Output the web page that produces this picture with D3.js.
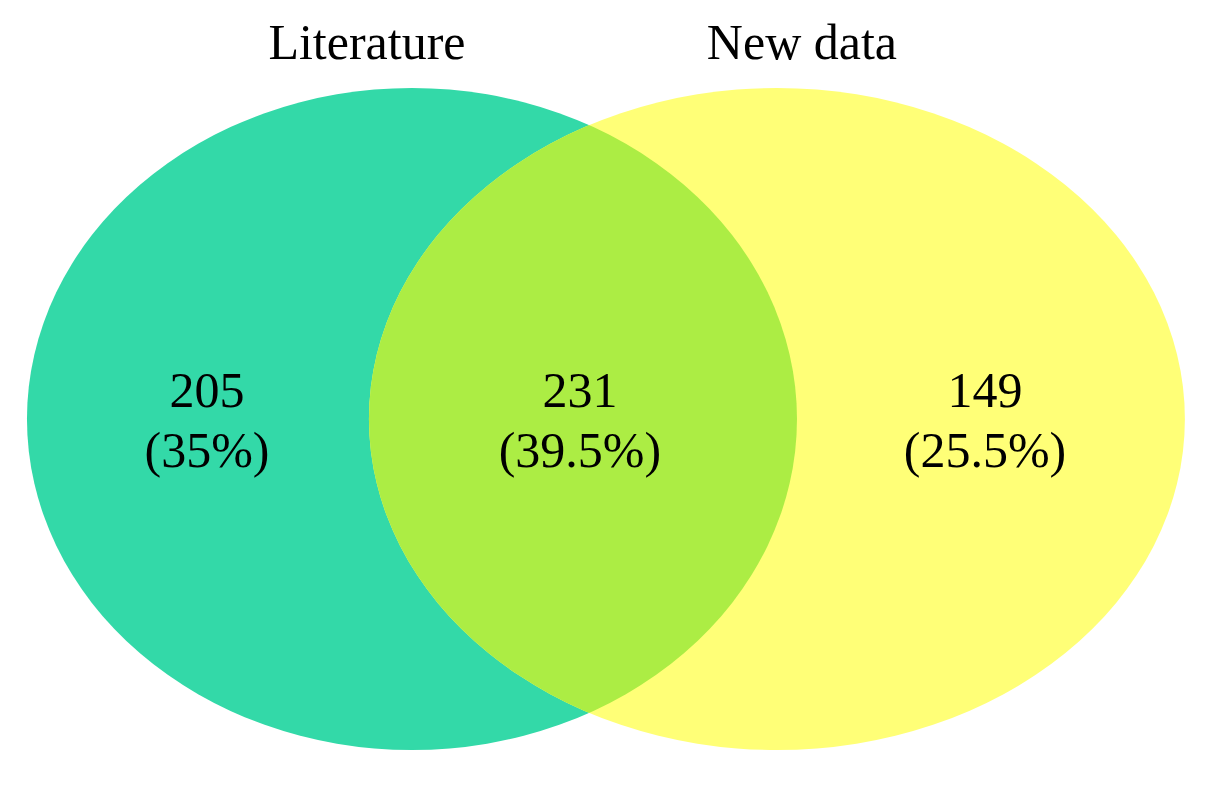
<!DOCTYPE html>
<html>
<head>
<meta charset="utf-8">
<script src="https://cdn.jsdelivr.net/npm/d3@7"></script>
<style>
  body { margin: 0; background: #fff; }
  text { font-family: "Liberation Serif", "Times New Roman", serif; fill: #000; }
</style>
</head>
<body>
<script>
// sets and region counts
var setNames = ["Literature", "New data"];
var regionCounts = [205, 231, 149];          // only Literature, both, only New data
var regionPercents = ["35%", "39.5%", "25.5%"];

var w = 1219, h = 789;

// layout in unit space, mapped to pixels by scales
var xScale = d3.scaleLinear().domain([0, 1]).range([25, 1185]);
var yScale = d3.scaleLinear().domain([0, 1]).range([88, 750]);

var ellipses = [
  {cx: 0.3336, rx: 0.3319, fill: "#33D9A8"},
  {cx: 0.6482, rx: 0.3517, fill: "#FFFF77"}
];
var labelX = [0.1569, 0.4784, 0.8276];
var titleX = [0.2948, 0.6698];

var svg = d3.select("body")
            .append("svg")
            .attr("width", w)
            .attr("height", h);

var cy = yScale(0.5);
var ry = (yScale(1) - yScale(0)) / 2;
function pxRx(d) { return xScale(d.rx) - xScale(0); }

svg.append("defs").append("clipPath")
   .attr("id", "clipLeft")
   .append("ellipse")
   .attr("cx", xScale(ellipses[0].cx))
   .attr("cy", cy)
   .attr("rx", pxRx(ellipses[0]))
   .attr("ry", ry);

svg.selectAll("ellipse.set")
   .data(ellipses)
   .enter()
   .append("ellipse")
   .attr("class", "set")
   .attr("cx", function(d) { return xScale(d.cx); })
   .attr("cy", cy)
   .attr("rx", pxRx)
   .attr("ry", ry)
   .attr("fill", function(d) { return d.fill; });

// overlap region
svg.append("ellipse")
   .attr("cx", xScale(ellipses[1].cx))
   .attr("cy", cy)
   .attr("rx", pxRx(ellipses[1]))
   .attr("ry", ry)
   .attr("clip-path", "url(#clipLeft)")
   .attr("fill", "#ACED44");

/***Titles***/
svg.selectAll("text.title")
   .data(setNames)
   .enter()
   .append("text")
   .attr("class", "title")
   .attr("x", function(d, i) { return xScale(titleX[i]); })
   .attr("y", 59)
   .attr("text-anchor", "middle")
   .attr("font-size", 50)
   .text(function(d) { return d; });

/***Region labels***/
var labels = svg.selectAll("g.region")
   .data(regionCounts)
   .enter()
   .append("g")
   .attr("class", "region");

labels.append("text")
   .attr("x", function(d, i) { return xScale(labelX[i]); })
   .attr("y", 407)
   .attr("text-anchor", "middle")
   .attr("font-size", 50)
   .text(function(d) { return d; });

labels.append("text")
   .attr("x", function(d, i) { return xScale(labelX[i]); })
   .attr("y", 467)
   .attr("text-anchor", "middle")
   .attr("font-size", 50)
   .text(function(d, i) { return "(" + regionPercents[i] + ")"; });
</script>
</body>
</html>
